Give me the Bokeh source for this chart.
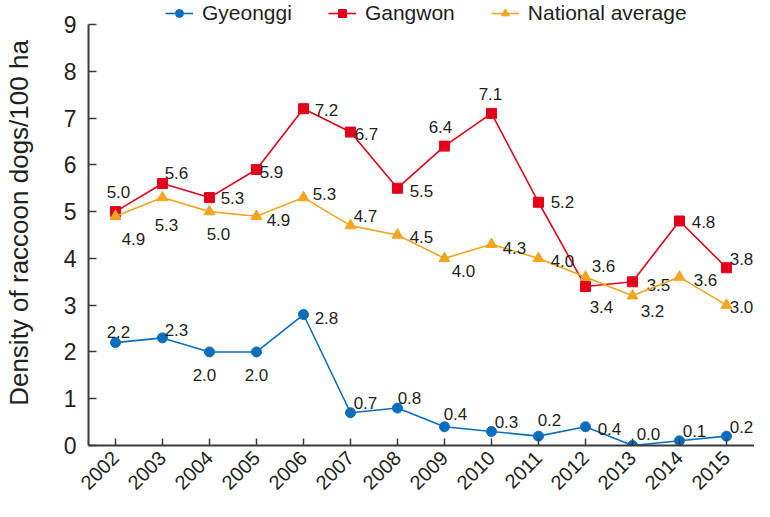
import math
from bokeh.plotting import figure
from bokeh.models import ColumnDataSource, FixedTicker, Legend, LegendItem
from bokeh.core.properties import value
from bokeh.embed import file_html
from bokeh.resources import INLINE

years = [2002, 2003, 2004, 2005, 2006, 2007, 2008, 2009, 2010, 2011, 2012, 2013, 2014, 2015]
gyeonggi = [2.2, 2.3, 2.0, 2.0, 2.8, 0.7, 0.8, 0.4, 0.3, 0.2, 0.4, 0.0, 0.1, 0.2]
gangwon = [5.0, 5.6, 5.3, 5.9, 7.2, 6.7, 5.5, 6.4, 7.1, 5.2, 3.4, 3.5, 4.8, 3.8]
national = [4.9, 5.3, 5.0, 4.9, 5.3, 4.7, 4.5, 4.0, 4.3, 4.0, 3.6, 3.2, 3.6, 3.0]
y_ticks = [0, 1, 2, 3, 4, 5, 6, 7, 8, 9]
y_title = "Density of raccoon dogs/100 ha"

# label offsets (screen px, text centre relative to point)
gy_dx = [3, 14, -5, 0, 23, 15, 12, 11, 15, 11, 24, 16, 15, 15]
gy_dy = [-11, -8, 23, 23, 3, -10, -10, -13, -9, -16, 2, -12, -10, -9]
ga_dx = [3, 14, 23, 15, 23, 16, 24, -4, -1, 24, 16, 26, 24, 15]
ga_dy = [-20, -11, 0, 2, 1, 2, 3, -19, -19, 0, 21, 3, 1, -9]
na_dx = [18, 4, 9, 22, 21, 15, 24, 19, 23, 24, 18, 20, 26, 15]
na_dy = [23, 27, 22, 4, -4, -10, 2, 13, 4, 3, -11, 15, 3, 2]

BLUE = "#0a6ebd"
RED = "#e3001b"
ORANGE = "#f2a51f"
AXIS = "#3a3a3a"
TEXT = "#231f20"
FONT = "Liberation Sans"

p = figure(width=754, height=501, output_backend="svg", toolbar_location=None,
           x_range=(2001.426, 2015.596), y_range=(0, 9.513),
           min_border_left=88, min_border_right=0, min_border_top=0, min_border_bottom=56)
p.outline_line_color = None
p.grid.grid_line_color = None
p.background_fill_color = "white"

xa = p.xaxis[0]
xa.ticker = FixedTicker(ticks=years)
xa.major_label_orientation = math.pi / 4
xa.major_tick_in = 7
xa.major_tick_out = 0
xa.minor_tick_line_color = None
xa.axis_line_color = AXIS
xa.axis_line_width = 2
xa.major_tick_line_color = AXIS
xa.major_tick_line_width = 1.5
xa.major_label_text_font = FONT
xa.major_label_text_font_size = "20px"
xa.major_label_text_color = TEXT
xa.major_label_standoff = 9

ya = p.yaxis[0]
ya.ticker = FixedTicker(ticks=y_ticks)
ya.bounds = (0, 9)
ya.major_tick_in = 8
ya.major_tick_out = 0
ya.minor_tick_line_color = None
ya.axis_line_color = AXIS
ya.axis_line_width = 2
ya.major_tick_line_color = AXIS
ya.major_tick_line_width = 1.5
ya.major_label_text_font = FONT
ya.major_label_text_font_size = "23px"
ya.major_label_text_color = TEXT
ya.major_label_standoff = 12
ya.axis_label = y_title
ya.axis_label_text_font = FONT
ya.axis_label_text_font_size = "26px"
ya.axis_label_text_font_style = "normal"
ya.axis_label_text_color = TEXT
ya.axis_label_standoff = 27

items = []
for name, vals, color, marker, size, dx, dy in [
    ("Gyeonggi", gyeonggi, BLUE, "circle", 10, gy_dx, gy_dy),
    ("Gangwon", gangwon, RED, "square", 10, ga_dx, ga_dy),
    ("National average", national, ORANGE, "triangle", 11, na_dx, na_dy),
]:
    src = ColumnDataSource(dict(x=years, y=vals, lbl=[f"{v:.1f}" for v in vals], dx=dx, dy=dy))
    ln = p.line("x", "y", source=src, line_color=color, line_width=1.6)
    sc = p.scatter("x", "y", source=src, marker=marker, size=size, fill_color=color, line_color=color)
    p.text("x", "y", text="lbl", source=src, x_offset="dx", y_offset="dy",
           text_align="center", text_baseline="middle",
           text_font=value(FONT), text_font_size="17px", text_color=TEXT)
    items.append(LegendItem(label=name, renderers=[ln, sc]))

legend = Legend(items=items, orientation="horizontal", location=(77, 420),
                label_text_font=FONT, label_text_font_size="21px", label_text_color=TEXT,
                glyph_width=28, glyph_height=20, label_standoff=9, spacing=36,
                padding=0, margin=0, border_line_color=None, background_fill_alpha=0)
p.add_layout(legend, "center")

open("out.html", "w").write(file_html(p, INLINE))
